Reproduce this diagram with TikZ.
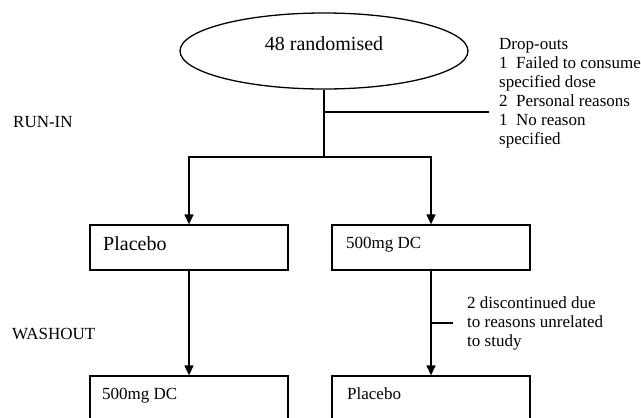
\documentclass[tikz,border=0pt]{standalone}
\usepackage{fontspec}
\setmainfont{Liberation Serif}
\usetikzlibrary{shapes.geometric,arrows.meta}
\begin{document}
\begin{tikzpicture}[x=1pt,y=-1pt,
  ln/.style={line width=1.3pt},
  arr/.style={ln,-{Triangle[width=9pt,length=10pt]}},
  box/.style={draw,ln,rectangle,minimum width=198pt,minimum height=45pt,inner sep=0pt},
  txt/.style={anchor=base west,inner sep=0pt,font=\fontsize{17}{19}\selectfont},
  big/.style={anchor=base west,inner sep=0pt,font=\fontsize{20}{24}\selectfont}]
\useasboundingbox (0,0) rectangle (641,418);
\clip (0,0) rectangle (641,418);
\node[draw,ln,ellipse,minimum width=288pt,minimum height=76pt,inner sep=0pt] (rand) at (324,51) {};
\node[big,anchor=base] (randt) at (324,50) {48 randomised};
\node[box] (pl1) at (189,247.5) {};
\node[box] (dc1) at (431,247.5) {};
\node[box] (dc2) at (189,398.5) {};
\node[box] (pl2) at (431,398.5) {};
\node[big] (pl1t) at (103,250) {Placebo};
\node[txt] (dc1t) at (346,248) {500mg DC};
\node[txt] (dc2t) at (102,399) {500mg DC};
\node[txt] (pl2t) at (347,399) {Placebo};
\node[txt] (runin) at (13,127) {RUN-IN};
\node[txt] (wash) at (12,339) {WASHOUT};
% anchor base west of a multi-line node lies on its last line
\node[txt,align=left] (drop) at (499,144) {Drop-outs\\1~~Failed to consume\\specified dose\\2~~Personal reasons\\1~~No reason\\specified};
\node[txt,align=left] (disc) at (467,346) {2 discontinued due\\to reasons unrelated\\to study};
\coordinate (j1) at (324,112);
\coordinate (dend) at (489,112);
\coordinate (j2) at (324,157);
\coordinate (t2) at (431,323);
\coordinate (t2e) at (453,323);
\draw[ln] (rand.south) -- (j2);
\draw[ln] (j1) -- (dend);
\draw[arr] (j2) -| (pl1.north);
\draw[arr] (j2) -| (dc1.north);
\draw[arr] (pl1.south) -- (dc2.north);
\draw[arr] (dc1.south) -- (pl2.north);
\draw[ln] (t2) -- (t2e);
\end{tikzpicture}
\end{document}
